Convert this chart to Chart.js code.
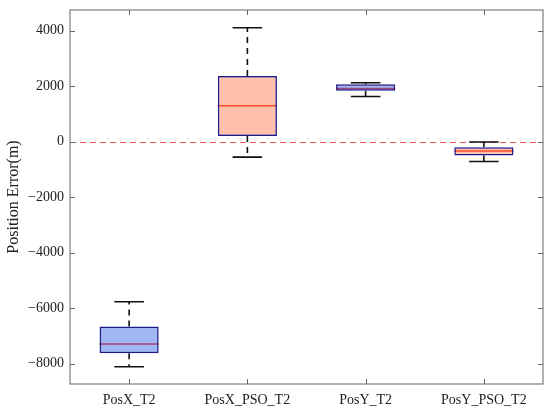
<!DOCTYPE html>
<html>
<head>
<meta charset="utf-8">
<script src="https://cdn.jsdelivr.net/npm/chart.js@4.4.1/dist/chart.umd.min.js"></script>
<style>
  body { margin: 0; background: #fff; }
  canvas { display: block; }
</style>
</head>
<body>
<canvas id="Box" width="550" height="414"></canvas>
<script>
// box plot values
const categories = ['PosX_T2', 'PosX_PSO_T2', 'PosY_T2', 'PosY_PSO_T2'];
const whiskerLow  = [-8110, -560, 1625, -715];
const q1          = [-7625,  205, 1830, -500];
const medians     = [-7290, 1290, 1915, -335];
const q3          = [-6655, 2365, 2065, -200];
const whiskerHigh = [-5770, 4100, 2120,  -15];
const yTicks = [-8000, -6000, -4000, -2000, 0, 2000, 4000];
const yMin = -8730;
const yMax = 4740;
const zeroLine = 0;

const boxFill = ['rgba(70,110,230,0.5)', 'rgba(255,130,90,0.5)', 'rgba(70,110,230,0.5)', 'rgba(255,130,90,0.5)'];
const medianColor = '#ff1a00';
const fontName = '"Liberation Serif", "Times New Roman", serif';

// whiskers, caps, medians, zero line under the boxes
const underBoxes = {
  id: 'underBoxes',
  beforeDatasetsDraw(chart) {
    const ctx = chart.ctx;
    const xs = chart.scales.x, ys = chart.scales.y;
    const area = chart.chartArea;
    const catW = xs.width / categories.length;
    ctx.save();

    const zy = Math.round(ys.getPixelForValue(zeroLine)) + 0.5;
    ctx.strokeStyle = '#ee5a5a';
    ctx.lineWidth = 1;
    ctx.setLineDash([6, 4]);
    ctx.beginPath();
    ctx.moveTo(area.left, zy);
    ctx.lineTo(area.right, zy);
    ctx.stroke();

    for (let i = 0; i < categories.length; i++) {
      const cx = xs.getPixelForValue(i);
      const capHalf = catW * 0.125;
      const boxHalf = catW * 0.25;
      ctx.strokeStyle = '#111';
      ctx.lineWidth = 1.6;
      ctx.setLineDash([6, 5]);
      ctx.beginPath();
      ctx.moveTo(cx, ys.getPixelForValue(q3[i]));
      ctx.lineTo(cx, ys.getPixelForValue(whiskerHigh[i]));
      ctx.moveTo(cx, ys.getPixelForValue(q1[i]));
      ctx.lineTo(cx, ys.getPixelForValue(whiskerLow[i]));
      ctx.stroke();
      ctx.setLineDash([]);
      ctx.beginPath();
      ctx.moveTo(cx - capHalf, ys.getPixelForValue(whiskerHigh[i]));
      ctx.lineTo(cx + capHalf, ys.getPixelForValue(whiskerHigh[i]));
      ctx.moveTo(cx - capHalf, ys.getPixelForValue(whiskerLow[i]));
      ctx.lineTo(cx + capHalf, ys.getPixelForValue(whiskerLow[i]));
      ctx.stroke();

      ctx.strokeStyle = medianColor;
      ctx.lineWidth = 1.5;
      ctx.beginPath();
      ctx.moveTo(cx - boxHalf, ys.getPixelForValue(medians[i]));
      ctx.lineTo(cx + boxHalf, ys.getPixelForValue(medians[i]));
      ctx.stroke();
    }
    ctx.restore();
  }
};

// axes frame with inward ticks on all four sides
const frame = {
  id: 'frame',
  afterDraw(chart) {
    const ctx = chart.ctx;
    const a = chart.chartArea;
    const xs = chart.scales.x, ys = chart.scales.y;
    ctx.save();
    ctx.strokeStyle = '#666';
    ctx.lineWidth = 1;
    ctx.strokeRect(a.left, a.top, a.right - a.left, a.bottom - a.top);
    ctx.beginPath();
    for (let i = 0; i < categories.length; i++) {
      const x = Math.round(xs.getPixelForValue(i)) + 0.5;
      ctx.moveTo(x, a.bottom); ctx.lineTo(x, a.bottom - 5);
      ctx.moveTo(x, a.top); ctx.lineTo(x, a.top + 5);
    }
    yTicks.forEach(v => {
      const y = Math.round(ys.getPixelForValue(v)) + 0.5;
      ctx.moveTo(a.left, y); ctx.lineTo(a.left + 5, y);
      ctx.moveTo(a.right, y); ctx.lineTo(a.right - 5, y);
    });
    ctx.stroke();
    ctx.restore();
  }
};

new Chart(document.getElementById('Box'), {
  type: 'bar',
  data: {
    labels: categories,
    datasets: [{
      label: 'IQR',
      data: q1.map((v, i) => [v, q3[i]]),
      backgroundColor: boxFill,
      borderColor: '#1c1c8a',
      borderWidth: 1.5,
      borderSkipped: false,
      barPercentage: 0.5,
      categoryPercentage: 1
    }]
  },
  options: {
    responsive: false,
    animation: false,
    layout: { padding: { left: 0, top: 10, right: 7, bottom: 0 } },
    plugins: {
      legend: { display: false },
      tooltip: { enabled: false }
    },
    scales: {
      x: {
        grid: { display: false, drawTicks: false },
        border: { display: false },
        ticks: {
          color: '#222',
          padding: 8,
          font: { family: fontName, size: 14 },
          maxRotation: 0
        },
        afterFit(scale) { scale.height = 30; scale.paddingLeft = 0; scale.paddingRight = 0; }
      },
      y: {
        min: yMin,
        max: yMax,
        grid: { display: false, drawTicks: false },
        border: { display: false },
        afterBuildTicks(scale) { scale.ticks = yTicks.map(v => ({ value: v })); },
        afterFit(scale) { scale.width = 70; scale.paddingTop = 0; scale.paddingBottom = 0; },
        ticks: {
          color: '#222',
          padding: 6,
          font: { family: fontName, size: 14 },
          callback: v => (v < 0 ? '\u2212' + Math.abs(v) : String(v))
        },
        title: {
          display: true,
          text: 'Position Error(m)',
          color: '#222',
          font: { family: fontName, size: 16 },
          padding: { top: 4, bottom: 0 }
        }
      }
    }
  },
  plugins: [underBoxes, frame]
});
</script>
</body>
</html>
